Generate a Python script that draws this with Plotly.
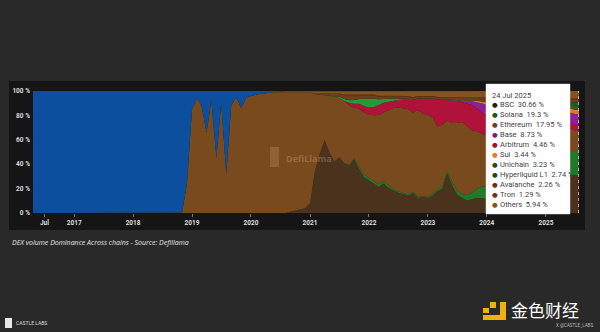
import plotly.graph_objects as go
import pandas as pd

# ---- dates: month starts Apr 2016 .. Jul 2025, plus the final day shown
dates = list(pd.date_range("2016-04-01", "2025-07-01", freq="MS").strftime("%Y-%m-%d")) + ["2025-07-24"]

# ---- series (share of DEX volume, %), bottom of stack first
bsc = ([0] * 45
       + [0, 0, 0, 0, 0, 0, 0, 0, 1, 2, 3, 4]
       + [8, 35, 48, 60, 50, 42, 45, 40, 38, 44, 36, 30]
       + [28, 25, 22, 24, 20, 18, 16, 15, 14, 16, 12, 13]
       + [12, 14, 18, 20, 32, 22, 15, 12, 10, 11, 12, 12]
       + [11, 10, 12, 10, 9, 10, 11, 12, 14, 15, 16, 20]
       + [18, 22, 25, 28, 30, 32, 31, 30.66])
solana = ([0] * 57
          + [0, 0, 0, 0, 0, 0, 0, 0, 0.5, 1, 2, 2]
          + [2, 2, 2, 2, 2, 1.5, 1, 1, 1, 1, 1, 0.5]
          + [1, 1, 1.5, 2, 2, 2.5, 3, 3, 4, 5, 7, 9]
          + [10, 12, 20, 18, 17, 16, 18, 20, 18, 22, 28, 24]
          + [35, 25, 20, 20, 22, 20, 19, 19.3])
ethereum = ([0] * 31
            + [0.5, 25]
            + [85, 94, 88, 66, 92, 45, 90, 32, 88, 95, 86, 94]
            + [96, 97, 98, 98, 99, 99, 99.5, 99.7, 98.8, 97.8, 96.9, 95.9]
            + [91, 63, 50, 37, 46, 53, 48, 50, 48, 42, 47, 52]
            + [55, 56, 58, 56, 60, 64, 66, 67, 68, 64, 70, 66]
            + [66, 62, 52, 50, 40, 48, 55, 58, 55, 50, 46, 42]
            + [40, 42, 35, 38, 42, 40, 38, 34, 35, 32, 28, 30]
            + [22, 25, 26, 24, 22, 20, 18, 17.95])
arbitrum = ([0] * 57
            + [0, 0, 0, 0, 0, 0, 0, 0, 2, 3, 4, 5]
            + [6, 7, 8, 8, 7, 6, 6, 7, 8, 10, 9, 12]
            + [13, 15, 22, 20, 16, 18, 18, 16, 18, 20, 18, 17]
            + [16, 15, 12, 11, 10, 10, 9, 9, 8, 8, 7, 6]
            + [6, 6, 6, 5, 5, 5, 4.5, 4.46])
base = ([0] * 81
        + [0, 0, 0, 0, 0, 0, 0, 1, 2, 3, 5, 7]
        + [8, 9, 11, 12, 13, 12, 11, 12, 12, 11, 10, 10]
        + [9, 9, 10, 9, 9, 9, 8.8, 8.73])
polygon = ([0] * 57
           + [0, 0, 0, 0, 0, 0.5, 1, 1.5, 2, 3, 4, 6]
           + [8, 7, 5, 3, 2, 1.5, 1, 0.5, 0.5, 0.3, 0.3, 0.3]
           + [0.3, 0.2, 0.2, 0.2, 0.2, 0.2, 0.2, 0.2, 0.1, 0.1, 0.1, 0.1]
           + [0] * 20)
sui = ([0] * 81
       + [0, 0, 0, 0, 0.3, 0.5, 0.5, 0.5, 0.5, 0.8, 1, 1.5]
       + [2, 2, 2, 2, 1.5, 1.5, 1.5, 2, 2.5, 3, 3, 3]
       + [4, 4, 3, 3.5, 4, 3.5, 3.4, 3.44])
unichain = [0] * 105 + [0, 0.5, 1, 1.5, 2, 2.5, 3.2, 3.23]
hyperliquid = [0] * 105 + [0, 0.3, 0.8, 1.5, 2, 2.5, 2.7, 2.74]
avalanche = ([0] * 57
             + [0, 0.5, 1, 1.5, 2, 2, 2, 3, 4, 4, 3, 3]
             + [3, 3, 2.5, 2, 2, 1.5, 1.5, 1.5, 1.5, 1.5, 1.5, 1.5]
             + [1.5, 1.5, 1.5, 1.5, 1.5, 1.5, 1.5, 1.5, 1.5, 1.5, 2, 2.5]
             + [3, 3, 2.5, 2.5, 2, 2, 2, 2, 2, 2, 2, 2]
             + [2, 2, 2, 2, 2.2, 2.3, 2.3, 2.26])
tron = ([0] * 57
        + [0, 0, 0, 0, 0.3, 0.5, 0.5, 0.5, 0.5, 0.5, 0.5, 0.5]
        + [0.5, 0.5, 0.5, 0.5, 0.5, 0.5, 0.5, 0.5, 0.5, 0.5, 0.5, 0.5]
        + [0.5, 0.5, 0.5, 0.5, 0.5, 0.5, 0.8, 0.8, 0.8, 0.8, 0.8, 0.8]
        + [1, 1, 1, 1, 1, 1, 1, 1, 1, 1, 1, 1]
        + [1.2, 1.3, 1.3, 1.3, 1.3, 1.3, 1.3, 1.29])
others = ([0] * 45
          + [0, 0, 0, 0, 0, 0, 0.5, 0.5, 1, 1, 1, 1]
          + [1, 2, 2, 2, 2, 2, 2, 3, 3, 3, 3, 3]
          + [3, 3, 4, 4, 4, 4, 4, 4, 4, 5, 4, 4]
          + [4, 4, 5, 5, 5, 5, 5, 5, 5, 5, 5, 5]
          + [5, 5, 5, 5, 5, 5, 5, 5, 5, 5, 5, 5]
          + [6, 6, 6, 6, 6, 6, 6, 5.94])
waves = ([100] * 31
         + [100, 75]
         + [15, 6, 12, 34, 8, 55, 10, 68, 12, 5, 14, 6]
         + [4, 3, 2, 2, 1, 1, 0.5, 0.3, 0.2, 0.2, 0.1, 0.1]
         + [0] * 56)

series = [
    ("BSC", bsc, "#4a321d"),
    ("Solana", solana, "#1f7a2c"),
    ("Ethereum", ethereum, "#7a4a1f"),
    ("Arbitrum", arbitrum, "#b0123a"),
    ("Base", base, "#8e1f96"),
    ("Polygon", polygon, "#249a3a"),
    ("Sui", sui, "#e07b2a"),
    ("Unichain", unichain, "#3a5a1e"),
    ("Hyperliquid L1", hyperliquid, "#1d5e26"),
    ("Avalanche", avalanche, "#6b3f1c"),
    ("Tron", tron, "#7d3c14"),
    ("Others", others, "#84531f"),
    ("Waves", waves, "#0c4f9f"),
]
tooltip_order = ["BSC", "Solana", "Ethereum", "Base", "Arbitrum", "Sui",
                 "Unichain", "Hyperliquid L1", "Avalanche", "Tron", "Others"]
dot_colors = {"BSC": "#2b1d10", "Solana": "#145a20", "Ethereum": "#6e4119",
              "Base": "#7c1a86", "Arbitrum": "#a10f2c", "Sui": "#e07b2a",
              "Unichain": "#2f4a18", "Hyperliquid L1": "#16501f",
              "Avalanche": "#5e3718", "Tron": "#6e3512", "Others": "#84531f"}

xticks = ["2016-07-01", "2017-01-01", "2018-01-01", "2019-01-01", "2020-01-01",
          "2021-01-01", "2022-01-01", "2023-01-01", "2024-01-01", "2025-01-01"]
xticktext = ["Jul", "2017", "2018", "2019", "2020", "2021", "2022", "2023", "2024", "2025"]
yticks = [0, 20, 40, 60, 80, 100]
yticktext = ["0 %", "20 %", "40 %", "60 %", "80 %", "100 %"]

W, H = 600, 332
L, R, T, B = 33, 579, 91, 213


def px(x):
    return (x - L) / (R - L)


def py(y):
    return (B - y) / (B - T)


fig = go.Figure()
for name, vals, col in series:
    fig.add_trace(go.Scatter(x=dates, y=vals, name=name, mode="lines",
                             stackgroup="one", groupnorm="percent",
                             line=dict(width=0, color=col), fillcolor=col,
                             hoverinfo="skip"))

shapes = [
    dict(type="rect", xref="paper", yref="paper", x0=px(9), x1=px(585), y0=py(230), y1=py(81),
         fillcolor="#151515", line=dict(width=0), layer="below"),
    dict(type="line", xref="x", yref="paper", x0=dates[-1], x1=dates[-1], y0=0, y1=1,
         line=dict(color="#e8e8e8", width=1, dash="dot")),
    dict(type="rect", xref="paper", yref="paper", x0=px(270), x1=px(279), y0=py(167), y1=py(147),
         fillcolor="rgba(225,190,150,0.20)", line=dict(width=0)),
    dict(type="rect", xref="paper", yref="paper", x0=px(486), x1=px(570), y0=py(214), y1=py(84),
         fillcolor="#ffffff", line=dict(color="#dddddd", width=0.5)),
    dict(type="rect", xref="paper", yref="paper", x0=px(5), x1=px(12), y0=py(328), y1=py(318),
         fillcolor="#e6e6e6", line=dict(width=0)),
    dict(type="rect", xref="paper", yref="paper", x0=px(500), x1=px(506), y0=py(320), y1=py(302),
         fillcolor="#f0b00f", line=dict(width=0)),
    dict(type="rect", xref="paper", yref="paper", x0=px(483), x1=px(506), y0=py(320), y1=py(315),
         fillcolor="#f0b00f", line=dict(width=0)),
    dict(type="rect", xref="paper", yref="paper", x0=px(490), x1=px(496), y0=py(308), y1=py(302),
         fillcolor="#f0b00f", line=dict(width=0)),
    dict(type="rect", xref="paper", yref="paper", x0=px(483), x1=px(489), y0=py(313), y1=py(308),
         fillcolor="#f0b00f", line=dict(width=0)),
]

annotations = [
    dict(text="DefiLlama", x=px(284), y=py(158), xanchor="left", yanchor="middle",
         font=dict(family="Open Sans", size=9, color="rgba(225,190,150,0.30)", weight="bold")),
    dict(text="<i>DEX volume Dominance Across chains - Source: Defillama</i>", x=px(10), y=py(242),
         xanchor="left", yanchor="middle", font=dict(family="Open Sans", size=7, color="#e6e6e6")),
    dict(text="CASTLE LABS", x=px(14), y=py(323), xanchor="left", yanchor="middle",
         font=dict(family="Roboto", size=5, color="#dddddd")),
    dict(text="金色财经", x=px(509), y=py(309), xanchor="left", yanchor="middle",
         font=dict(family="Noto Sans CJK SC", size=17, color="#ffffff")),
    dict(text="X @CASTLE_LABS", x=px(554), y=py(325), xanchor="left", yanchor="middle",
         font=dict(family="Roboto", size=4.5, color="#bbbbbb")),
    dict(text="24 Jul 2025", x=px(490), y=py(95), xanchor="left", yanchor="middle",
         font=dict(family="Roboto", size=7.5, color="#444444")),
]
lookup = {name: vals for name, vals, _ in series}
for i, name in enumerate(tooltip_order):
    yy = 104.5 + i * 10
    annotations.append(dict(text="●", x=px(490), y=py(yy), xanchor="left", yanchor="middle",
                            font=dict(family="DejaVu Sans", size=6.5, color=dot_colors[name])))
    annotations.append(dict(text=f"{name}  {lookup[name][-1]:g} %", x=px(497.5), y=py(yy),
                            xanchor="left", yanchor="middle",
                            font=dict(family="Roboto", size=7.5, color="#444444")))

for a in annotations:
    a.update(xref="paper", yref="paper", showarrow=False)

fig.update_layout(
    width=W, height=H,
    margin=dict(l=L, r=W - R, t=T, b=H - B),
    paper_bgcolor="#292929", plot_bgcolor="#151515",
    showlegend=False, hovermode=False,
    shapes=shapes, annotations=annotations,
    xaxis=dict(type="date", range=["2016-04-21", "2025-07-25"], tickvals=xticks, ticktext=xticktext,
               showgrid=False, zeroline=False, ticks="outside", ticklen=3, tickcolor="#777777",
               tickfont=dict(family="Roboto", size=6.5, color="#dddddd", weight="bold"), showline=False),
    yaxis=dict(range=[0, 100], tickvals=yticks, ticktext=yticktext, showgrid=False, zeroline=False,
               ticks="", tickfont=dict(family="Roboto", size=6.5, color="#dddddd", weight="bold"),
               ticklabelstandoff=2),
)

fig.write_html("out.html")
